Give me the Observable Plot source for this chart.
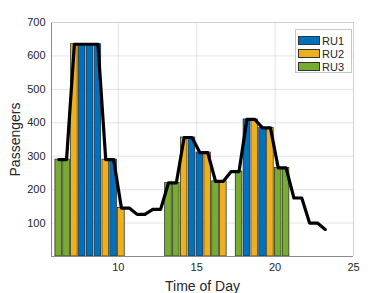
<!DOCTYPE html>
<html><head><meta charset="utf-8">
<script src="https://cdn.jsdelivr.net/npm/d3@7"></script>
<script src="https://cdn.jsdelivr.net/npm/@observablehq/plot@0.6"></script>
<style>
body{margin:0;background:#fff;font-family:"Liberation Sans",Arial,sans-serif;}
#wrap{position:relative;width:390px;height:293px;overflow:hidden}
#legend{position:absolute;left:295px;top:29px;width:57px;height:44px;border:1px solid #c8c8c8;background:#fff;box-sizing:border-box;padding-top:4px;font-size:11px;color:#262626}
#legend .row{display:flex;align-items:center;height:13px}
#legend .sw{width:22px;height:9px;margin-left:2px;margin-right:2px;border:1px solid #333;box-sizing:border-box}
[aria-label="x-axis label"] text,[aria-label="y-axis label"] text{font-size:14px}
</style></head>
<body><div id="wrap"><div id="chart"></div><div id="legend"></div></div>
<script>
// Line series (passengers over time of day)
const lineTimes = [6.2,6.7,7.2,7.7,8.2,8.7,9.2,9.7,10.2,10.7,11.2,11.7,12.2,12.7,13.2,13.7,14.2,14.7,15.2,15.7,16.2,16.7,17.2,17.7,18.2,18.7,19.2,19.7,20.2,20.7,21.2,21.7,22.2,22.7,23.2];
const lineValues = [290,290,635,635,635,635,290,290,145,145,126,126,141,141,220,220,356,356,311,311,225,225,254,254,410,410,385,385,265,265,175,175,100,100,81];

// Bars
const barTimes = [6.2,6.7,7.2,7.7,8.2,8.7,9.2,9.7,10.2,13.2,13.7,14.2,14.7,15.2,15.7,16.2,16.7,17.7,18.2,18.7,19.2,19.7,20.2,20.7];
const barUnits = ["RU3","RU3","RU2","RU1","RU1","RU1","RU2","RU1","RU2","RU3","RU3","RU2","RU1","RU1","RU2","RU3","RU2","RU3","RU1","RU2","RU1","RU2","RU3","RU3"];
const barValues = [290,290,635,635,635,635,290,290,145,220,220,356,356,311,311,225,225,254,410,410,385,385,265,265];

const units = ["RU1","RU2","RU3"];
const unitColors = ["#0072BD","#EDB120","#77AC30"];
const xTicks = [10,15,20,25];
const yTicks = [100,200,300,400,500,600,700];

const lineData = lineTimes.map((t,i)=>({t, v: lineValues[i]}));
const barData = barTimes.map((t,i)=>({t, u: barUnits[i], v: barValues[i]}));
const halfW = 0.21;

const chart = Plot.plot({
  width: 390, height: 293,
  marginLeft: 51, marginRight: 37, marginTop: 22, marginBottom: 37,
  style: {fontFamily: "'Liberation Sans', Arial, sans-serif", fontSize: "11px", color: "#262626", background: "#fff", overflow: "visible"},
  x: {domain: [5.74, 25]},
  y: {domain: [0, 700]},
  color: {domain: units, range: unitColors},
  marks: [
    Plot.gridX(xTicks, {stroke: "#000", strokeOpacity: 0.11}),
    Plot.gridY(yTicks, {stroke: "#000", strokeOpacity: 0.11}),
    Plot.rectY(barData, {x1: d => d.t - halfW, x2: d => d.t + halfW, y: "v", fill: "u", stroke: "#222", strokeWidth: 0.7}),
    Plot.line(lineData, {x: "t", y: "v", stroke: "#000", strokeWidth: 3.2}),
    Plot.ruleX([5.74], {stroke: "#8a8a8a"}),
    Plot.ruleY([0], {stroke: "#8a8a8a"}),
    Plot.ruleX([25], {stroke: "#d0d0d0"}),
    Plot.ruleY([700], {stroke: "#d0d0d0"}),
    Plot.axisX({ticks: xTicks, tickSize: 0, tickPadding: 7, label: "Time of Day", labelAnchor: "center", labelOffset: 34, labelArrow: false}),
    Plot.axisY({ticks: yTicks, tickSize: 0, tickPadding: 6, label: "Passengers", labelAnchor: "center", labelOffset: 41, labelArrow: false})
  ]
});
document.getElementById("chart").appendChild(chart);

const leg = document.getElementById("legend");
units.forEach((u,i)=>{
  const row = document.createElement("div"); row.className = "row";
  const sw = document.createElement("span"); sw.className = "sw"; sw.style.background = unitColors[i];
  const tx = document.createElement("span"); tx.textContent = u;
  row.appendChild(sw); row.appendChild(tx); leg.appendChild(row);
});
</script></body></html>
